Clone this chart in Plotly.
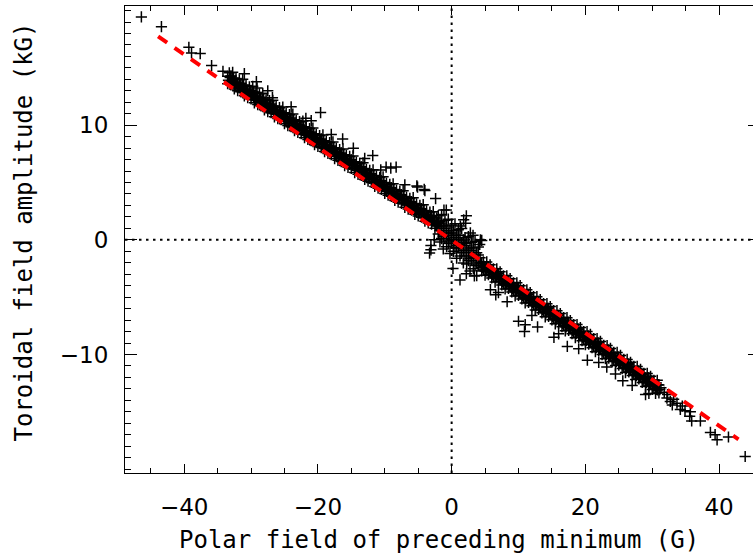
import plotly.graph_objects as go

# ---------------- data ----------------
# dense band, x < 0 (points mostly just above the fit line)
left_x = [-33.5, -33.25, -33.0, -32.75, -32.5, -32.25, -32.0, -31.75, -31.5, -31.25, -31.0, -30.75,
          -30.5, -30.25, -30.0, -29.75, -29.5, -29.25, -29.0, -28.75, -28.5, -28.25, -28.0, -27.75,
          -27.5, -27.25, -27.0, -26.75, -26.5, -26.25, -26.0, -25.75, -25.5, -25.25, -25.0, -24.75,
          -24.5, -24.25, -24.0, -23.75, -23.5, -23.25, -23.0, -22.75, -22.5, -22.25, -22.0, -21.75,
          -21.5, -21.25, -21.0, -20.75, -20.5, -20.25, -20.0, -19.75, -19.5, -19.25, -19.0, -18.75,
          -18.5, -18.25, -18.0, -17.75, -17.5, -17.25, -17.0, -16.75, -16.5, -16.25, -16.0, -15.75,
          -15.5, -15.25, -15.0, -14.75, -14.5, -14.25, -14.0, -13.75, -13.5, -13.25, -13.0, -12.75,
          -12.5, -12.25, -12.0, -11.75, -11.5, -11.25, -11.0, -10.75, -10.5, -10.25, -10.0, -9.75,
          -9.5, -9.25, -9.0, -8.75, -8.5, -8.25, -8.0, -7.75, -7.5, -7.25, -7.0, -6.75,
          -6.5, -6.25, -6.0, -5.75, -5.5, -5.25, -5.0, -4.75, -4.5, -4.25, -4.0, -3.75,
          -3.5, -3.25, -3.0, -2.75, -2.5, -2.25]
left_y_near = [13.62, 13.87, 13.52, 13.81, 13.16, 13.36, 13.01, 13.26, 12.91, 13.21, 12.56, 12.75,
               12.40, 12.65, 12.30, 12.60, 11.95, 12.15, 11.80, 12.04, 11.69, 11.99, 11.34, 11.54,
               11.19, 11.44, 11.09, 11.38, 10.73, 10.93, 10.58, 10.83, 10.48, 10.78, 10.13, 10.32,
               9.97, 10.22, 9.87, 10.17, 9.52, 9.72, 9.37, 9.61, 9.26, 9.56, 8.91, 9.11,
               8.76, 9.01, 8.66, 8.95, 8.30, 8.50, 8.15, 8.40, 8.05, 8.35, 7.70, 7.89,
               7.54, 7.79, 7.44, 7.74, 7.09, 7.29, 6.94, 7.18, 6.83, 7.13, 6.48, 6.68,
               6.33, 6.58, 6.23, 6.52, 5.87, 6.07, 5.72, 5.97, 5.62, 5.92, 5.27, 5.46,
               5.11, 5.36, 5.01, 5.31, 4.66, 4.86, 4.51, 4.75, 4.40, 4.70, 4.05, 4.25,
               3.90, 4.15, 3.80, 4.09, 3.44, 3.64, 3.29, 3.54, 3.19, 3.49, 2.84, 3.03,
               2.68, 2.93, 2.58, 2.88, 2.23, 2.43, 2.08, 2.32, 1.97, 2.27, 1.62, 1.82,
               1.47, 1.72, 1.37, 1.66, 1.01, 1.21]
left_y_far = [14.27, 14.57, 14.27, 14.61, 13.76, 14.06, 13.66, 13.96, 13.66, 14.01, 13.16, 13.45,
              13.05, 13.35, 13.05, 13.40, 12.55, 12.85, 12.45, 12.74, 12.44, 12.79, 11.94, 12.24,
              11.84, 12.14, 11.84, 12.18, 11.33, 11.63, 11.23, 11.53, 11.23, 11.58, 10.73, 11.02,
              10.62, 10.92, 10.62, 10.97, 10.12, 10.42, 10.02, 10.31, 10.01, 10.36, 9.51, 9.81,
              9.41, 9.71, 9.41, 9.75, 8.90, 9.20, 8.80, 9.10, 8.80, 9.15, 8.30, 8.59,
              8.19, 8.49, 8.19, 8.54, 7.69, 7.99, 7.59, 7.88, 7.58, 7.93, 7.08, 7.38,
              6.98, 7.28, 6.98, 7.32, 6.47, 6.77, 6.37, 6.67, 6.37, 6.72, 5.87, 6.16,
              5.76, 6.06, 5.76, 6.11, 5.26, 5.56, 5.16, 5.45, 5.15, 5.50, 4.65, 4.95,
              4.55, 4.85, 4.55, 4.89, 4.04, 4.34, 3.94, 4.24, 3.94, 4.29, 3.44, 3.73,
              3.33, 3.63, 3.33, 3.68, 2.83, 3.13, 2.73, 3.02, 2.72, 3.07, 2.22, 2.52,
              2.12, 2.42, 2.12, 2.46, 1.61, 1.91]
left_x_mid = [-33.375, -33.125, -32.875, -32.625, -32.375, -32.125, -31.875, -31.625, -31.375, -31.125, -30.875, -30.625,
              -30.375, -30.125, -29.875, -29.625, -29.375, -29.125, -28.875, -28.625, -28.375, -28.125, -27.875, -27.625,
              -27.375, -27.125, -26.875, -26.625, -26.375, -26.125, -25.875, -25.625, -25.375, -25.125, -24.875, -24.625,
              -24.375, -24.125, -23.875, -23.625, -23.375, -23.125, -22.875, -22.625, -22.375, -22.125, -21.875, -21.625,
              -21.375, -21.125, -20.875, -20.625, -20.375, -20.125, -19.875, -19.625, -19.375, -19.125, -18.875, -18.625,
              -18.375, -18.125, -17.875, -17.625, -17.375, -17.125, -16.875, -16.625, -16.375, -16.125, -15.875, -15.625,
              -15.375, -15.125, -14.875, -14.625, -14.375, -14.125, -13.875, -13.625, -13.375, -13.125, -12.875, -12.625,
              -12.375, -12.125, -11.875, -11.625, -11.375, -11.125, -10.875, -10.625, -10.375, -10.125, -9.875, -9.625,
              -9.375, -9.125, -8.875, -8.625, -8.375, -8.125, -7.875, -7.625, -7.375, -7.125, -6.875, -6.625,
              -6.375, -6.125, -5.875, -5.625, -5.375, -5.125, -4.875, -4.625, -4.375, -4.125, -3.875, -3.625,
              -3.375, -3.125, -2.875, -2.625, -2.375, -2.125]
left_y_mid = [13.92, 14.17, 13.82, 14.11, 13.46, 13.66, 13.31, 13.56, 13.21, 13.51, 12.86, 13.05,
              12.70, 12.95, 12.60, 12.90, 12.25, 12.45, 12.10, 12.34, 11.99, 12.29, 11.64, 11.84,
              11.49, 11.74, 11.39, 11.68, 11.03, 11.23, 10.88, 11.13, 10.78, 11.08, 10.43, 10.62,
              10.27, 10.52, 10.17, 10.47, 9.82, 10.02, 9.67, 9.91, 9.56, 9.86, 9.21, 9.41,
              9.06, 9.31, 8.96, 9.25, 8.60, 8.80, 8.45, 8.70, 8.35, 8.65, 8.00, 8.19,
              7.84, 8.09, 7.74, 8.04, 7.39, 7.59, 7.24, 7.48, 7.13, 7.43, 6.78, 6.98,
              6.63, 6.88, 6.53, 6.82, 6.17, 6.37, 6.02, 6.27, 5.92, 6.22, 5.57, 5.76,
              5.41, 5.66, 5.31, 5.61, 4.96, 5.16, 4.81, 5.05, 4.70, 5.00, 4.35, 4.55,
              4.20, 4.45, 4.10, 4.39, 3.74, 3.94, 3.59, 3.84, 3.49, 3.79, 3.14, 3.33,
              2.98, 3.23, 2.88, 3.18, 2.53, 2.73, 2.38, 2.62, 2.27, 2.57, 1.92, 2.12,
              1.77, 2.02, 1.67, 1.96, 1.31, 1.51]

# dense cluster around the origin
mid_x = [-2.0, -1.75, -1.5, -1.25, -1.0, -0.75, -0.5, -0.25, 0.0, 0.25, 0.5, 0.75, 1.0,
         1.25, 1.5, 1.75, 2.0, 2.25, 2.5, 2.75, 3.0, 3.25, 3.5, 3.75, 4.0]
mid_y_a = [1.41, 0.81, 1.01, 0.31, 1.01, 0.40, 0.60, -0.10, 0.60, 0.00, 0.20, -0.50, 0.19,
           -0.41, -0.21, -0.91, -0.51, -1.11, -0.91, -1.61, -0.92, -1.52, -1.32, -2.02, -1.32]
mid_y_b = [0.51, -0.19, 0.11, -0.79, 0.11, -0.60, -0.30, -1.20, -0.30, -1.00, -0.70, -1.60, -0.71,
           -1.41, -1.11, -2.01, -1.41, -2.11, -1.81, -2.71, -1.82, -2.52, -2.22, -3.12, -2.22]
mid_y_c = [2.11, 1.61, 2.21, 1.21, 1.71, 1.20, 1.80, 0.80, 1.30, 0.80, 1.40, 0.40, 0.89,
           0.39, 0.99, -0.01, 0.19, -0.31, 0.29, -0.71, -0.22, -0.72, -0.12, -1.12, -0.62]

# dense band, x > 0 (points mostly just below the fit line)
right_x = [4.25, 4.5, 4.75, 5.0, 5.25, 5.5, 5.75, 6.0, 6.25, 6.5, 6.75, 7.0,
           7.25, 7.5, 7.75, 8.0, 8.25, 8.5, 8.75, 9.0, 9.25, 9.5, 9.75, 10.0,
           10.25, 10.5, 10.75, 11.0, 11.25, 11.5, 11.75, 12.0, 12.25, 12.5, 12.75, 13.0,
           13.25, 13.5, 13.75, 14.0, 14.25, 14.5, 14.75, 15.0, 15.25, 15.5, 15.75, 16.0,
           16.25, 16.5, 16.75, 17.0, 17.25, 17.5, 17.75, 18.0, 18.25, 18.5, 18.75, 19.0,
           19.25, 19.5, 19.75, 20.0, 20.25, 20.5, 20.75, 21.0, 21.25, 21.5, 21.75, 22.0,
           22.25, 22.5, 22.75, 23.0, 23.25, 23.5, 23.75, 24.0, 24.25, 24.5, 24.75, 25.0,
           25.25, 25.5, 25.75, 26.0, 26.25, 26.5, 26.75, 27.0, 27.25, 27.5, 27.75, 28.0,
           28.25, 28.5, 28.75, 29.0, 29.25, 29.5, 29.75, 30.0, 30.25, 30.5, 30.75, 31.0]
right_y_near = [-1.57, -2.02, -1.92, -2.33, -1.93, -2.33, -2.18, -2.63, -2.53, -2.93, -2.53, -2.94,
                -2.79, -3.24, -3.14, -3.54, -3.14, -3.54, -3.39, -3.85, -3.75, -4.15, -3.75, -4.15,
                -4.00, -4.45, -4.35, -4.76, -4.36, -4.76, -4.61, -5.06, -4.96, -5.36, -4.96, -5.37,
                -5.22, -5.67, -5.57, -5.97, -5.57, -5.97, -5.82, -6.28, -6.18, -6.58, -6.18, -6.58,
                -6.43, -6.88, -6.78, -7.19, -6.79, -7.19, -7.04, -7.49, -7.39, -7.79, -7.39, -7.80,
                -7.65, -8.10, -8.00, -8.40, -8.00, -8.40, -8.25, -8.71, -8.61, -9.01, -8.61, -9.01,
                -8.86, -9.31, -9.21, -9.62, -9.22, -9.62, -9.47, -9.92, -9.82, -10.22, -9.82, -10.23,
                -10.08, -10.53, -10.43, -10.83, -10.43, -10.83, -10.68, -11.14, -11.04, -11.44, -11.04, -11.44,
                -11.29, -11.74, -11.64, -12.05, -11.65, -12.05, -11.90, -12.35, -12.25, -12.65, -12.25, -12.66]
right_y_far = [-2.27, -2.72, -2.62, -3.08, -2.58, -3.03, -2.88, -3.33, -3.23, -3.68, -3.18, -3.64,
               -3.49, -3.94, -3.84, -4.29, -3.79, -4.24, -4.09, -4.55, -4.45, -4.90, -4.40, -4.85,
               -4.70, -5.15, -5.05, -5.51, -5.01, -5.46, -5.31, -5.76, -5.66, -6.11, -5.61, -6.07,
               -5.92, -6.37, -6.27, -6.72, -6.22, -6.67, -6.52, -6.98, -6.88, -7.33, -6.83, -7.28,
               -7.13, -7.58, -7.48, -7.94, -7.44, -7.89, -7.74, -8.19, -8.09, -8.54, -8.04, -8.50,
               -8.35, -8.80, -8.70, -9.15, -8.65, -9.10, -8.95, -9.41, -9.31, -9.76, -9.26, -9.71,
               -9.56, -10.01, -9.91, -10.37, -9.87, -10.32, -10.17, -10.62, -10.52, -10.97, -10.47, -10.93,
               -10.78, -11.23, -11.13, -11.58, -11.08, -11.53, -11.38, -11.84, -11.74, -12.19, -11.69, -12.14,
               -11.99, -12.44, -12.34, -12.80, -12.30, -12.75, -12.60, -13.05, -12.95, -13.40, -12.90, -13.36]
right_x_mid = [4.375, 4.625, 4.875, 5.125, 5.375, 5.625, 5.875, 6.125, 6.375, 6.625, 6.875, 7.125,
               7.375, 7.625, 7.875, 8.125, 8.375, 8.625, 8.875, 9.125, 9.375, 9.625, 9.875, 10.125,
               10.375, 10.625, 10.875, 11.125, 11.375, 11.625, 11.875, 12.125, 12.375, 12.625, 12.875, 13.125,
               13.375, 13.625, 13.875, 14.125, 14.375, 14.625, 14.875, 15.125, 15.375, 15.625, 15.875, 16.125,
               16.375, 16.625, 16.875, 17.125, 17.375, 17.625, 17.875, 18.125, 18.375, 18.625, 18.875, 19.125,
               19.375, 19.625, 19.875, 20.125, 20.375, 20.625, 20.875, 21.125, 21.375, 21.625, 21.875, 22.125,
               22.375, 22.625, 22.875, 23.125, 23.375, 23.625, 23.875, 24.125, 24.375, 24.625, 24.875, 25.125,
               25.375, 25.625, 25.875, 26.125, 26.375, 26.625, 26.875, 27.125, 27.375, 27.625, 27.875, 28.125,
               28.375, 28.625, 28.875, 29.125, 29.375, 29.625, 29.875, 30.125, 30.375, 30.625, 30.875, 31.125]
right_y_mid = [-1.97, -2.42, -2.32, -2.73, -2.33, -2.73, -2.58, -3.03, -2.93, -3.33, -2.93, -3.34,
               -3.19, -3.64, -3.54, -3.94, -3.54, -3.94, -3.79, -4.25, -4.15, -4.55, -4.15, -4.55,
               -4.40, -4.85, -4.75, -5.16, -4.76, -5.16, -5.01, -5.46, -5.36, -5.76, -5.36, -5.77,
               -5.62, -6.07, -5.97, -6.37, -5.97, -6.37, -6.22, -6.68, -6.58, -6.98, -6.58, -6.98,
               -6.83, -7.28, -7.18, -7.59, -7.19, -7.59, -7.44, -7.89, -7.79, -8.19, -7.79, -8.20,
               -8.05, -8.50, -8.40, -8.80, -8.40, -8.80, -8.65, -9.11, -9.01, -9.41, -9.01, -9.41,
               -9.26, -9.71, -9.61, -10.02, -9.62, -10.02, -9.87, -10.32, -10.22, -10.62, -10.22, -10.63,
               -10.48, -10.93, -10.83, -11.23, -10.83, -11.23, -11.08, -11.54, -11.44, -11.84, -11.44, -11.84,
               -11.69, -12.14, -12.04, -12.45, -12.05, -12.45, -12.30, -12.75, -12.65, -13.05, -12.65, -13.06]

# isolated points: the two tails and the outliers round the band
sparse_x = [-46.4, -43.4, -39.3, -38.9, -37.6, -35.9, -34.2, -33.0, -29.2, -29.1, -26.8, -21.8,
            -19.6, -16.3, -14.7, -11.8, -10.6, -9.8, -9.1, -8.3, -5.2, -5.1, -4.1, -4.0,
            -2.4, -1.15, -0.8, -31.0, -27.5, -24.0, -21.0, -18.0, -13.0, -7.0,
            2.2, 1.8, 1.3, 2.1, 2.8, 3.2, 4.3, 4.5, 4.2, -3.1, -3.1, -3.3, -2.6, 0.2, 1.25, 2.2, 3.4,
            5.8, 6.6, 8.3, 10.0, 11.0, 10.9, 12.85, 15.3, 17.3, 20.3, 23.2, 25.6, 29.5,
            7.0, 12.0, 16.0, 19.0, 22.0, 24.5, 27.0, 29.0,
            30.8, 31.3, 31.8, 32.2, 32.3, 32.7, 33.0, 33.2, 33.7, 34.2, 34.5, 34.9,
            35.6, 35.7, 35.9, 37.2, 38.7, 39.4, 39.7, 41.4, 43.9]
sparse_y = [19.45, 18.6, 16.8, 16.3, 16.25, 15.2, 14.7, 14.3, 13.8, 13.25, 12.4, 10.6,
            11.1, 8.8, 8.0, 7.35, 6.1, 6.35, 6.26, 6.35, 4.7, 4.6, 4.4, 4.3,
            3.6, 2.6, 2.6, 14.5, 13.0, 11.6, 10.4, 9.2, 7.1, 4.8,
            2.1, 1.75, 1.2, 1.45, 0.6, 0.4, 0.0, -0.05, -0.4, -0.5, -0.87, -1.15, 0.0, -2.5, -3.5, -2.95, -3.15,
            -4.35, -4.8, -5.4, -7.1, -7.4, -8.0, -7.6, -8.5, -9.3, -10.5, -11.1, -12.3, -13.4,
            -4.6, -6.6, -8.2, -9.5, -10.7, -11.7, -12.7, -13.5,
            -13.1, -12.9, -13.3, -13.8, -13.5, -14.1, -14.4, -13.9, -14.25, -14.8, -14.5, -14.9,
            -15.4, -15.0, -15.8, -15.8, -16.8, -17.0, -17.45, -17.2, -18.9]

# linear fit (red dashed)
fit_x = [-43.9, 42.9]
fit_y = [17.75, -17.4]

x_ticks = [-40, -20, 0, 20, 40]
y_ticks = [-10, 0, 10]
x_title = "Polar field of preceding minimum (G)"
y_title = "Toroidal field amplitude (kG)"

# ---------------- figure ----------------
all_x = (left_x + left_x + left_x_mid + mid_x + mid_x + mid_x
         + right_x + right_x + right_x_mid + sparse_x)
all_y = (left_y_near + left_y_far + left_y_mid + mid_y_a + mid_y_b + mid_y_c
         + right_y_near + right_y_far + right_y_mid + sparse_y)

X_RANGE = [-48.85, 45.07]
Y_RANGE = [-20.34, 20.4]

fig = go.Figure()
fig.add_trace(go.Scatter(
    x=all_x, y=all_y, mode="markers", showlegend=False, hoverinfo="skip",
    marker=dict(symbol="cross-thin", size=8, color="black",
                line=dict(width=1.5, color="black")),
))
fig.add_trace(go.Scatter(
    x=fit_x, y=fit_y, mode="lines", showlegend=False, hoverinfo="skip",
    line=dict(color="#ff0000", width=4, dash="11px,9px"),
))
# empty trace that carries the short right-hand tick marks
fig.add_trace(go.Scatter(x=[], y=[], yaxis="y2", showlegend=False, hoverinfo="skip"))

dot = dict(color="black", width=2, dash="2.5px,4.5px")
fig.add_shape(type="line", xref="x", yref="paper", x0=0, x1=0, y0=0, y1=1, line=dot, layer="below")
fig.add_shape(type="line", xref="paper", yref="y", x0=0, x1=1, y0=0, y1=0, line=dot, layer="below")

tickfont = dict(family="DejaVu Sans", size=23, color="black")
titlefont = dict(family="DejaVu Sans Mono", size=24, color="black")

fig.update_layout(
    width=753, height=560,
    margin=dict(l=125, r=0, t=6, b=87),
    paper_bgcolor="white", plot_bgcolor="white",
    xaxis=dict(range=X_RANGE, tickmode="array", tickvals=x_ticks,
               ticks="inside", ticklen=9, tickwidth=1, tickcolor="black",
               showline=True, linecolor="black", linewidth=1, mirror="ticks",
               minor=dict(tick0=0, dtick=5, ticks="inside", ticklen=5, tickwidth=1, tickcolor="black"),
               showgrid=False, zeroline=False, tickfont=tickfont, ticklabelstandoff=13),
    yaxis=dict(range=Y_RANGE, tickmode="array", tickvals=y_ticks,
               ticks="inside", ticklen=12, tickwidth=1, tickcolor="black",
               showline=True, linecolor="black", linewidth=1, mirror=False,
               minor=dict(tick0=0, dtick=1, ticks="inside", ticklen=6, tickwidth=1, tickcolor="black"),
               showgrid=False, zeroline=False, tickfont=tickfont, ticklabelstandoff=11),
    yaxis2=dict(range=Y_RANGE, overlaying="y", side="right", tickmode="array", tickvals=y_ticks,
                ticks="inside", ticklen=5, tickwidth=1, tickcolor="black",
                showticklabels=False, showline=False, showgrid=False, zeroline=False),
    annotations=[
        dict(text=x_title, xref="paper", yref="paper", x=0.5, y=-0.109,
             xanchor="center", yanchor="top", showarrow=False, font=titlefont),
        dict(text=y_title, xref="paper", yref="paper", x=-0.1608, y=0.515, textangle=-90,
             xanchor="center", yanchor="middle", showarrow=False, font=titlefont),
    ],
)

fig.write_html("out.html", config={"displayModeBar": False},
               post_script="document.body.style.margin='0';")
